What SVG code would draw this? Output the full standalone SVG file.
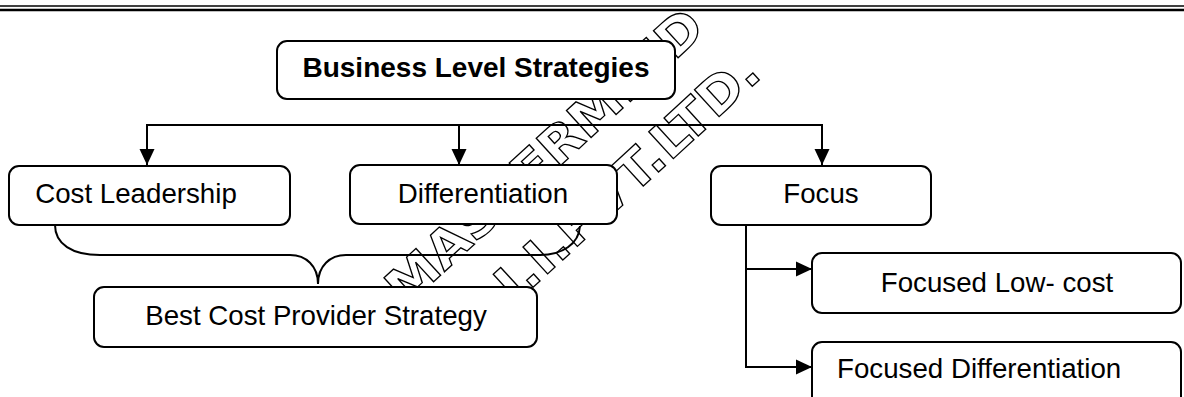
<svg xmlns="http://www.w3.org/2000/svg" width="1184" height="397" viewBox="0 0 1184 397">
  <style>
    .box { fill: #ffffff; stroke: #000000; stroke-width: 2; }
    .lbl { font-family: "Liberation Sans", Arial, sans-serif; font-size: 27.7px; fill: #000000; }
    .title { font-family: "Liberation Sans", Arial, sans-serif; font-size: 28px; font-weight: bold; fill: #000000; }
    .conn { fill: none; stroke: #000000; stroke-width: 2; }
    .wm { font-family: "DejaVu Sans", "Liberation Sans", sans-serif; font-size: 50px; font-weight: bold; fill: #ffffff; stroke: #000000; stroke-width: 1.3; }
  </style>
  <defs>
    <marker id="arr" markerUnits="userSpaceOnUse" markerWidth="16" markerHeight="16" refX="16" refY="8" orient="auto">
      <path d="M0,0.5 L16,8 L0,15.5 Z" fill="#000000"/>
    </marker>
  </defs>
  <rect width="1184" height="397" fill="#ffffff"/>
  <g id="header-rule">
    <line x1="0" y1="6" x2="1184" y2="6" stroke="#000000" stroke-width="1.5"/>
    <line x1="0" y1="10" x2="1184" y2="10" stroke="#000000" stroke-width="2.5"/>
  </g>
  <g id="watermark">
    <text class="wm" x="405" y="308" textLength="410" lengthAdjust="spacingAndGlyphs" transform="rotate(-42.5 405 308)">MASTERMIND</text>
    <text class="wm" x="470" y="345" textLength="398" lengthAdjust="spacingAndGlyphs" transform="rotate(-42.5 470 345)">C.I.I.PVT.LTD.</text>
  </g>
  <g id="connectors">
    <line class="conn" x1="146" y1="125" x2="823" y2="125"/>
    <line class="conn" x1="147" y1="125" x2="147" y2="165" marker-end="url(#arr)"/>
    <line class="conn" x1="459" y1="125" x2="459" y2="165" marker-end="url(#arr)"/>
    <line class="conn" x1="822" y1="125" x2="822" y2="165" marker-end="url(#arr)"/>
    <polyline class="conn" points="746,225 746,367 812,367" marker-end="url(#arr)"/>
    <line class="conn" x1="746" y1="269" x2="812" y2="269" marker-end="url(#arr)"/>
    <path class="conn" d="M55,225 C55,244 72,255 100,255 L290,255 C306,255 318,266 318,284 C318,266 330,255 346,255 L540,255 C562,255 579,244 580,226"/>
  </g>
  <g id="business-level-strategies">
    <rect class="box" x="277" y="41" width="398" height="58" rx="10"/>
    <text class="title" x="476" y="77" text-anchor="middle">Business Level Strategies</text>
  </g>
  <g id="cost-leadership">
    <rect class="box" x="9" y="166" width="281" height="59" rx="10"/>
    <text class="lbl" x="136" y="203" text-anchor="middle">Cost Leadership</text>
  </g>
  <g id="differentiation">
    <rect class="box" x="350" y="165" width="267" height="59" rx="10"/>
    <text class="lbl" x="483" y="203" text-anchor="middle">Differentiation</text>
  </g>
  <g id="focus">
    <rect class="box" x="711" y="166" width="220" height="59" rx="10"/>
    <text class="lbl" x="821" y="203" text-anchor="middle">Focus</text>
  </g>
  <g id="best-cost-provider">
    <rect class="box" x="94" y="287" width="443" height="60" rx="10"/>
    <text class="lbl" x="316" y="325" text-anchor="middle">Best Cost Provider Strategy</text>
  </g>
  <g id="focused-low-cost">
    <rect class="box" x="812" y="253" width="369" height="60" rx="10"/>
    <text class="lbl" x="997" y="292" text-anchor="middle">Focused Low- cost</text>
  </g>
  <g id="focused-differentiation">
    <rect class="box" x="812" y="342" width="369" height="70" rx="10"/>
    <text class="lbl" x="837" y="378">Focused Differentiation</text>
  </g>
</svg>
